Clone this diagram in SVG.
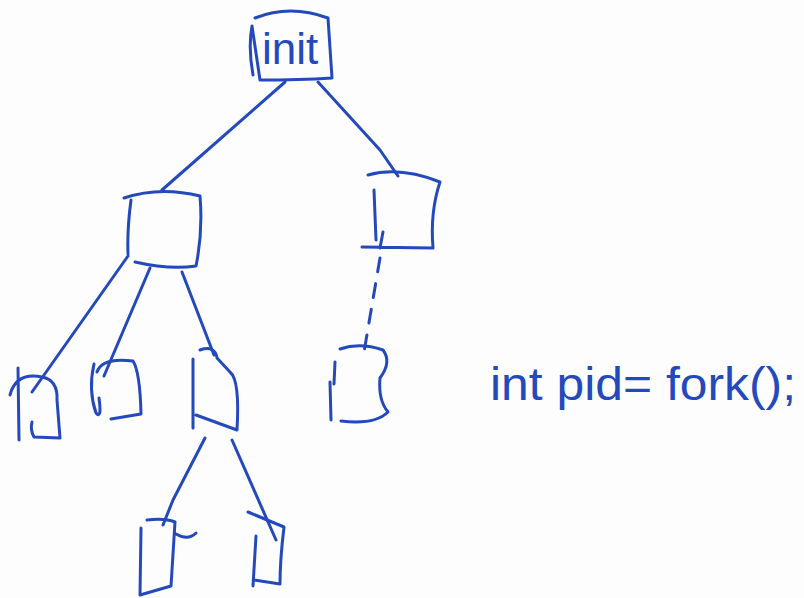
<svg xmlns="http://www.w3.org/2000/svg" width="804" height="598" viewBox="0 0 804 598">
<style>
.ink{fill:none;stroke:#2449bd;stroke-width:3;stroke-linecap:round;stroke-linejoin:round}
.dash{stroke-dasharray:14 12}
.txt{fill:#2449bd;font-family:"Liberation Sans",Arial,sans-serif}
</style>
<rect width="804" height="598" fill="#fdfdfe"/>
<g id="connectors">
<path class="ink" d="M285 82 L162 190"/>
<path class="ink" d="M318 82 L380 150 L398 176"/>
<path class="ink" d="M128 256 L32 392"/>
<path class="ink" d="M150 268 L104 376"/>
<path class="ink" d="M182 272 L214 355"/>
<path class="ink dash" d="M380 258 L364 352"/>
<path class="ink" d="M205 438 L173 500 L163 525"/>
<path class="ink" d="M232 440 L276 540"/>
</g>
<g id="init">
<path class="ink" d="M255 18 Q290 4 328 18 L332 78 Q300 80 260 80 L252 26 Q248 48 253 75"/>
<text class="txt" x="262" y="64" font-size="44">init</text>
</g>
<g id="nodeA">
<path class="ink" d="M124 198 Q160 186 200 196 Q203 232 196 266 Q170 270 135 262 M131 200 Q127 230 128 254"/>
</g>
<g id="nodeB">
<path class="ink" d="M368 175 Q400 166 440 182 Q430 212 433 248 L362 247 M374 190 L376 240 M383 232 L380 248"/>
</g>
<g id="nodeC">
<path class="ink" d="M340 349 Q360 342 383 350 Q392 362 380 378 Q378 400 388 412 Q375 425 341 421 M335 362 L334 384 M330 382 L331 420"/>
</g>
<g id="nodeD">
<path class="ink" d="M10 395 Q16 372 42 377 Q58 380 57 400 L60 438 L34 437 Q30 430 32 422 M18 368 L19 440"/>
</g>
<g id="nodeE">
<path class="ink" d="M97 372 Q102 357 133 361 Q140 372 141 414 L111 419 M94 364 Q88 390 96 413 Q102 420 99 398"/>
</g>
<g id="nodeF">
<path class="ink" d="M200 350 Q215 345 217 358 L230 372 Q240 380 237 430 L196 415 M193 359 L193 428"/>
</g>
<g id="nodeG">
<path class="ink" d="M147 520 Q165 518 175 522 L171 586 L140 595 L141 528 M176 534 Q188 541 196 533"/>
</g>
<g id="nodeH">
<path class="ink" d="M248 512 L284 527 Q280 560 280 584 L254 580 M256 536 L253 586"/>
</g>
<g id="code">
<text class="txt" x="490" y="400" font-size="46" textLength="306" lengthAdjust="spacingAndGlyphs">int pid= fork();</text>
</g>
</svg>
